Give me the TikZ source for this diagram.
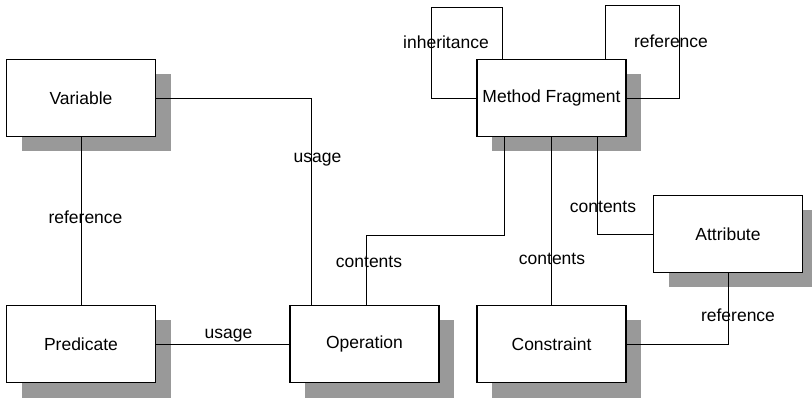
\documentclass[tikz,border=0pt]{standalone}
\usepackage{fontspec}
\setmainfont{Liberation Sans}
\usetikzlibrary{shadows}
\begin{document}
\begin{tikzpicture}[x=1pt,y=-1pt,
  entity/.style={draw, fill=white, line width=1.1pt, inner sep=0pt,
    minimum width=149pt, minimum height=77pt,
    font=\fontsize{17.5}{19}\selectfont,
    drop shadow={shadow xshift=15pt, shadow yshift=-15pt, fill=black!40, opacity=1}},
  link/.style={line width=0.9pt},
  rel/.style={anchor=base, inner sep=0pt, font=\fontsize{17.5}{19}\selectfont}]
\useasboundingbox (0,0) rectangle (812,398);

% entities
\node[entity] (var)  at (81,98)    {Variable};
\node[entity] (pred) at (81,344)   {Predicate};
\node[entity] (op)   at (364.5,344) {Operation};
\node[entity] (mf)   at (551.5,98) {Method Fragment};
\node[entity] (cons) at (551.5,344) {Constraint};
\node[entity] (attr) at (728,234)  {Attribute};

% bends of the routed connectors
\coordinate (j1) at (504,235);
\coordinate (inh) at (431,7);
\coordinate (ref) at (679,5);

% relationships
\draw[link] (var.south) -- (pred.north);
\draw[link] (var.east) -| ([xshift=-53.5pt]op.north);
\draw[link] (pred.east) -- (op.west);
\draw[link] ([xshift=1.5pt]op.north) |- (j1) -- ([xshift=-47.5pt]mf.south);
\draw[link] (mf.south) -- (cons.north);
\draw[link] ([xshift=45.5pt]mf.south) |- (attr.west);
\draw[link] (attr.south) |- (cons.east);
\draw[link] ([xshift=-49.5pt]mf.north) |- (inh) |- (mf.west);
\draw[link] ([xshift=53.5pt]mf.north) |- (ref) |- (mf.east);

% relationship labels
\node[rel] (l1) at (85.5,224) {reference};
\node[rel] (l2) at (317.5,163) {usage};
\node[rel] (l3) at (228.5,338) {usage};
\node[rel] (l4) at (369,268) {contents};
\node[rel] (l5) at (552,265) {contents};
\node[rel] (l6) at (603,213) {contents};
\node[rel] (l7) at (738,322) {reference};
\node[rel] (l8) at (446,49) {inheritance};
\node[rel] (l9) at (671,48) {reference};
\end{tikzpicture}
\end{document}
